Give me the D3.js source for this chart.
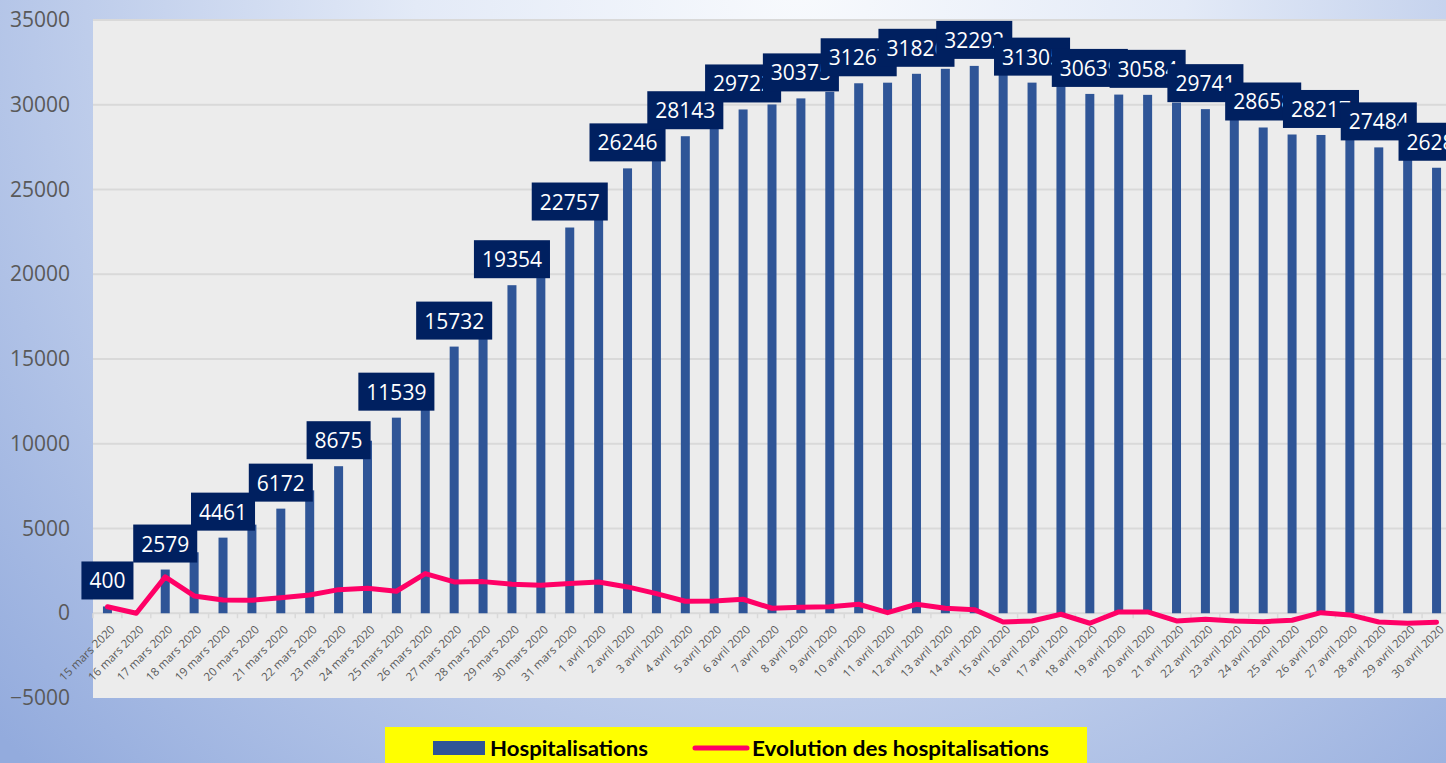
<!DOCTYPE html>
<html>
<head>
<meta charset="utf-8">
<script src="https://cdn.jsdelivr.net/npm/d3@7"></script>
<style>
  body { margin: 0; overflow: hidden; }
  svg { display: block; }
</style>
</head>
<body>
<svg id="chart" width="1446" height="763"></svg>
<script>
// dates (x categories)
var dates = ["15 mars 2020","16 mars 2020","17 mars 2020","18 mars 2020","19 mars 2020","20 mars 2020",
  "21 mars 2020","22 mars 2020","23 mars 2020","24 mars 2020","25 mars 2020","26 mars 2020","27 mars 2020",
  "28 mars 2020","29 mars 2020","30 mars 2020","31 mars 2020","1 avril 2020","2 avril 2020","3 avril 2020",
  "4 avril 2020","5 avril 2020","6 avril 2020","7 avril 2020","8 avril 2020","9 avril 2020","10 avril 2020",
  "11 avril 2020","12 avril 2020","13 avril 2020","14 avril 2020","15 avril 2020","16 avril 2020","17 avril 2020",
  "18 avril 2020","19 avril 2020","20 avril 2020","21 avril 2020","22 avril 2020","23 avril 2020","24 avril 2020",
  "25 avril 2020","26 avril 2020","27 avril 2020","28 avril 2020","29 avril 2020","30 avril 2020"];

// hospitalisations (bars)
var hosp = [400, 0, 2579, 3600, 4461, 5228, 6172, 7252, 8675, 10180, 11539, 13877, 15732, 17598, 19354, 21007,
  22757, 24605, 26246, 27403, 28143, 28869, 29722, 30017, 30375, 30765, 31267, 31302, 31826, 32121, 32292,
  31770, 31305, 31246, 30639, 30600, 30584, 30129, 29741, 29286, 28658, 28245, 28217, 28000, 27484, 26894, 26283];

// evolution des hospitalisations (line)
var evol = [380, 0, 2143, 1021, 785, 767, 921, 1080, 1393, 1476, 1298, 2338, 1848, 1866, 1712, 1653, 1748,
  1848, 1553, 1157, 708, 726, 826, 295, 354, 390, 531, 35, 531, 295, 212, -520, -455, -59, -590, 77, 77,
  -455, -354, -455, -496, -413, 35, -100, -514, -590, -531];

var yTicks = [-5000, 0, 5000, 10000, 15000, 20000, 25000, 30000, 35000];

var svg = d3.select("#chart"),
    width = +svg.attr("width"),
    height = +svg.attr("height");

var pLeft = 93, pTop = 20, pRight = 1451, pBottom = 698;

// background gradient
var defs = svg.append("defs");
var grad = defs.append("radialGradient")
    .attr("id", "bg")
    .attr("gradientUnits", "userSpaceOnUse")
    .attr("cx", 800).attr("cy", -20).attr("r", 1100);
grad.append("stop").attr("offset", "0").attr("stop-color", "#f8fafd");
grad.append("stop").attr("offset", "0.35").attr("stop-color", "#e3eaf7");
grad.append("stop").attr("offset", "1").attr("stop-color", "#93abdd");

svg.append("rect").attr("width", width).attr("height", height).attr("fill", "url(#bg)");

var x = d3.scaleBand().domain(dates).range([pLeft, pRight]);
var y = d3.scaleLinear().domain([-5000, 35000]).range([pBottom, pTop]);

// plot area
svg.append("rect")
    .attr("x", pLeft).attr("y", pTop)
    .attr("width", pRight - pLeft).attr("height", pBottom - pTop)
    .attr("fill", "#ececec");

// gridlines
svg.append("g").selectAll("line").data(yTicks.filter(function(d){ return d !== -5000; }))
  .join("line")
    .attr("x1", pLeft).attr("x2", pRight)
    .attr("y1", function(d){ return y(d); }).attr("y2", function(d){ return y(d); })
    .attr("stroke", "#d9d9d9").attr("stroke-width", 2);

// y axis labels
var yAxis = d3.axisLeft(y).tickValues(yTicks).tickSize(0).tickPadding(0).tickFormat(d3.format("d"));
var gy = svg.append("g").attr("transform", "translate(70,0)").call(yAxis);
gy.select(".domain").remove();
gy.selectAll("text")
    .attr("fill", "#595959")
    .style("font-family", "'Open Sans', sans-serif")
    .style("font-size", "21px");

// category ticks on zero line
svg.append("g").selectAll("line").data(dates)
  .join("line")
    .attr("x1", function(d){ return x(d); }).attr("x2", function(d){ return x(d); })
    .attr("y1", y(0)).attr("y2", y(0) + 5)
    .attr("stroke", "#d9d9d9").attr("stroke-width", 1.5);

// x axis labels
svg.append("g").selectAll("text").data(dates)
  .join("text")
    .attr("transform", function(d){
      return "translate(" + (x(d) + x.bandwidth() / 2 + 8) + "," + (y(0) + 17) + ") rotate(-45)";
    })
    .attr("text-anchor", "end")
    .attr("fill", "#595959")
    .style("font-family", "'Open Sans', sans-serif")
    .style("font-size", "11.5px")
    .text(function(d){ return d; });

// bars
var barW = 9;
svg.append("g").selectAll("rect").data(hosp)
  .join("rect")
    .attr("x", function(d, i){ return x(dates[i]) + x.bandwidth() / 2 - barW / 2; })
    .attr("y", function(d){ return y(d); })
    .attr("width", barW)
    .attr("height", function(d){ return y(0) - y(d); })
    .attr("fill", "#2f5597");

// data labels on every other bar
var labs = svg.append("g");
hosp.forEach(function(v, i) {
  if (i % 2 !== 0) return;
  var cx = x(dates[i]) + x.bandwidth() / 2;
  var g = labs.append("g");
  var r = g.append("rect").attr("fill", "#002060");
  var t = g.append("text")
      .attr("x", cx).attr("text-anchor", "middle")
      .attr("fill", "#ffffff")
      .style("font-family", "'Open Sans', sans-serif")
      .style("font-size", "21px")
      .text(v);
  var w = t.node().getComputedTextLength() + 16;
  var yb = y(v) - 7;
  r.attr("x", cx - w / 2).attr("y", yb - 38).attr("width", w).attr("height", 38);
  t.attr("y", yb - 19 + 8);
});

// evolution line
var line = d3.line()
    .x(function(d, i){ return x(dates[i]) + x.bandwidth() / 2; })
    .y(function(d){ return y(d); });
svg.append("path").datum(evol)
    .attr("d", line)
    .attr("fill", "none")
    .attr("stroke", "#ff0066")
    .attr("stroke-width", 5)
    .attr("stroke-linejoin", "round")
    .attr("stroke-linecap", "round");

// legend
var lg = svg.append("g");
lg.append("rect").attr("x", 385).attr("y", 727).attr("width", 702).attr("height", 40).attr("fill", "#ffff00");
lg.append("rect").attr("x", 433).attr("y", 741).attr("width", 52).attr("height", 14).attr("fill", "#2f5597");
lg.append("text").attr("x", 490).attr("y", 756)
    .attr("textLength", 158).attr("lengthAdjust", "spacingAndGlyphs")
    .style("font-family", "Lato, sans-serif").style("font-weight", "bold").style("font-size", "20px")
    .attr("fill", "#000").text("Hospitalisations");
lg.append("line").attr("x1", 695).attr("x2", 747).attr("y1", 748).attr("y2", 748)
    .attr("stroke", "#ff0066").attr("stroke-width", 5).attr("stroke-linecap", "round");
lg.append("text").attr("x", 752).attr("y", 756)
    .attr("textLength", 297).attr("lengthAdjust", "spacingAndGlyphs")
    .style("font-family", "Lato, sans-serif").style("font-weight", "bold").style("font-size", "20px")
    .attr("fill", "#000").text("Evolution des hospitalisations");
</script>
</body>
</html>
